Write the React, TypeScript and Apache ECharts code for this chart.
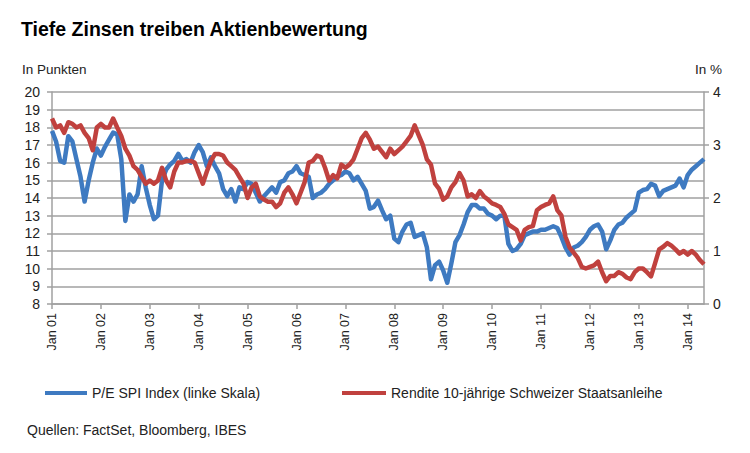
import React, { useEffect, useRef } from "react";
import * as echarts from "echarts";

// P/E SPI Index (linke Skala), monthly Jan 2001 .. May 2014
const peValues = [
  17.8, 17.2, 16.1, 16.0, 17.5, 17.2, 16.2, 15.2, 13.8, 15.0, 16.0, 16.8,
  16.4, 16.9, 17.3, 17.7, 17.6, 16.2, 12.7, 14.2, 13.8, 14.2, 15.8, 14.6,
  13.6, 12.8, 13.0, 15.0, 15.6, 15.9, 16.1, 16.5, 16.1, 16.2, 16.0, 16.6,
  17.0, 16.6, 15.8, 16.3, 15.8, 15.4, 14.5, 14.1, 14.5, 13.8, 14.6, 14.5,
  14.9, 14.8, 14.3, 13.8, 14.1, 14.35, 14.6, 14.3, 14.9, 15.0, 15.4, 15.5,
  15.8, 15.4, 15.3, 15.2, 14.0, 14.2, 14.3, 14.5, 14.8, 15.0, 15.2, 15.3,
  15.5, 15.4, 15.0, 15.2, 14.8, 14.4, 13.4, 13.5, 13.85, 13.3, 12.8, 13.0,
  11.7, 11.5, 12.1, 12.5, 12.6, 11.8, 11.9, 12.0, 11.2, 9.4, 10.2, 10.4,
  9.9, 9.2, 10.3, 11.5, 11.9, 12.5, 13.2, 13.6, 13.6, 13.4, 13.4, 13.1,
  13.0, 12.8, 13.0, 13.0, 11.4, 11.0, 11.1, 11.4, 11.9, 12.0, 12.1, 12.1,
  12.2, 12.2, 12.3, 12.4, 12.3, 11.8, 11.2, 10.8, 11.2, 11.3, 11.5, 11.8,
  12.2, 12.4, 12.5, 12.1, 11.1, 11.6, 12.2, 12.5, 12.6, 12.9, 13.1, 13.3,
  14.3, 14.45, 14.5, 14.8, 14.7, 14.1, 14.4, 14.5, 14.6, 14.7, 15.1, 14.6,
  15.3, 15.6, 15.8, 16.0, 16.2,
];

// Rendite 10-jährige Schweizer Staatsanleihe in %, monthly
const yieldValues = [
  3.5, 3.33, 3.37, 3.23, 3.43, 3.4, 3.33, 3.37, 3.23, 3.13, 2.9, 3.33,
  3.4, 3.33, 3.33, 3.5, 3.33, 3.17, 2.93, 2.8, 2.6, 2.53, 2.4, 2.27,
  2.33, 2.27, 2.33, 2.57, 2.33, 2.2, 2.5, 2.67, 2.67, 2.7, 2.7, 2.67,
  2.47, 2.27, 2.5, 2.7, 2.83, 2.83, 2.8, 2.67, 2.6, 2.53, 2.4, 2.27,
  2.0, 2.2, 2.27, 2.03, 1.97, 1.93, 1.93, 1.83, 1.9, 2.1, 2.2, 2.07,
  1.9, 2.1, 2.3, 2.67, 2.7, 2.8, 2.77, 2.57, 2.33, 2.43, 2.37, 2.63,
  2.57, 2.63, 2.73, 2.93, 3.13, 3.23, 3.1, 2.93, 2.97, 2.87, 2.77, 2.93,
  2.83, 2.9, 2.97, 3.07, 3.17, 3.37, 3.18, 3.0, 2.73, 2.63, 2.27, 2.17,
  1.97, 2.03, 2.2, 2.3, 2.47, 2.33, 2.03, 2.07, 2.0, 2.13, 2.03, 1.97,
  1.9, 1.87, 1.83, 1.7, 1.5, 1.45, 1.4, 1.2, 1.4, 1.45, 1.47, 1.77,
  1.83, 1.87, 1.9, 2.03, 1.77, 1.67, 1.27, 1.07, 0.97, 0.87, 0.7, 0.67,
  0.7, 0.73, 0.8, 0.6, 0.43, 0.53, 0.53, 0.6, 0.57, 0.5, 0.47, 0.6,
  0.67, 0.67, 0.6, 0.52, 0.77, 1.03, 1.08, 1.15, 1.1, 1.03, 0.95, 1.0,
  0.93, 1.0, 0.93, 0.83, 0.75,
];

const yearLabels = ["01", "02", "03", "04", "05", "06", "07", "08", "09", "10", "11", "12", "13", "14"];
const monthLabels = ["Jan", "Feb", "Mär", "Apr", "Mai", "Jun", "Jul", "Aug", "Sep", "Okt", "Nov", "Dez"];

const categories: string[] = [];
yearLabels.forEach((y) => monthLabels.forEach((m) => categories.push(`${m} ${y}`)));
const cats = categories.slice(0, peValues.length);

const leftTicks = { min: 8, max: 20, interval: 1 };
const rightTicks = { min: 0, max: 4, interval: 1 };

const TITLE = "Tiefe Zinsen treiben Aktienbewertung";
const PE_NAME = "P/E SPI Index (linke Skala)";
const YIELD_NAME = "Rendite 10-jährige Schweizer Staatsanleihe";
const SOURCE = "Quellen: FactSet, Bloomberg, IBES";

const FONT = "'Liberation Sans', Arial, Helvetica, sans-serif";
const BLUE = "#3e7ac1";
const RED = "#c0413e";
const GRID = "#a0a0a0";

export default function App() {
  const ref = useRef<HTMLDivElement>(null);
  useEffect(() => {
    if (!ref.current) return;
    const chart = echarts.init(ref.current, undefined, { renderer: "svg" });
    const isJan = (i: number) => i % 12 === 0;
    chart.setOption({
      animation: false,
      backgroundColor: "#ffffff",
      textStyle: { fontFamily: FONT },
      grid: { left: 52, right: 46, top: 92, bottom: 149, containLabel: false },
      legend: [
        {
          data: [PE_NAME],
          left: 45,
          top: 386,
          icon: "rect",
          itemWidth: 42,
          itemHeight: 4,
          itemGap: 0,
          textStyle: { fontFamily: FONT, fontSize: 14, color: "#222" },
          padding: 0,
        },
        {
          data: [YIELD_NAME],
          left: 342,
          top: 386,
          icon: "rect",
          itemWidth: 44,
          itemHeight: 4,
          itemGap: 0,
          textStyle: { fontFamily: FONT, fontSize: 14, color: "#222" },
          padding: 0,
        },
      ],
      xAxis: {
        type: "category",
        data: cats,
        boundaryGap: false,
        axisLine: { show: true, lineStyle: { color: GRID, width: 1.5 } },
        axisTick: {
          show: true,
          interval: (i: number) => isJan(i),
          length: 5,
          lineStyle: { color: GRID, width: 1.5 },
        },
        axisLabel: {
          interval: (i: number) => isJan(i),
          rotate: 90,
          margin: 9,
          fontSize: 12.5,
          color: "#222",
          fontFamily: FONT,
        },
        splitLine: { show: false },
      },
      yAxis: [
        {
          type: "value",
          min: leftTicks.min,
          max: leftTicks.max,
          interval: leftTicks.interval,
          axisLine: { show: true, lineStyle: { color: GRID, width: 1.5 } },
          axisTick: { show: true, length: 5, lineStyle: { color: GRID, width: 1.5 } },
          axisLabel: { margin: 12, fontSize: 14, color: "#222", fontFamily: FONT },
          splitLine: { show: true, lineStyle: { color: GRID, width: 1.5 } },
        },
        {
          type: "value",
          position: "right",
          min: rightTicks.min,
          max: rightTicks.max,
          interval: rightTicks.interval,
          axisLine: { show: true, lineStyle: { color: GRID, width: 1.5 } },
          axisTick: { show: true, length: 5, lineStyle: { color: GRID, width: 1.5 } },
          axisLabel: { margin: 9, fontSize: 14, color: "#222", fontFamily: FONT },
          splitLine: { show: false },
        },
      ],
      series: [
        {
          name: PE_NAME,
          type: "line",
          yAxisIndex: 0,
          data: peValues,
          showSymbol: false,
          symbol: "none",
          lineStyle: { color: BLUE, width: 4.5, join: "round" },
          itemStyle: { color: BLUE },
        },
        {
          name: YIELD_NAME,
          type: "line",
          yAxisIndex: 1,
          data: yieldValues,
          showSymbol: false,
          symbol: "none",
          lineStyle: { color: RED, width: 4.5, join: "round" },
          itemStyle: { color: RED },
        },
      ],
      graphic: [
        {
          type: "text",
          left: 21,
          top: 19,
          style: { text: TITLE, fontFamily: FONT, fontSize: 19.5, fontWeight: "bold", fill: "#000" },
        },
        {
          type: "text",
          left: 22,
          top: 62,
          style: { text: "In Punkten", fontFamily: FONT, fontSize: 13.5, fill: "#222" },
        },
        {
          type: "text",
          right: 28,
          top: 62,
          style: { text: "In %", fontFamily: FONT, fontSize: 13.5, fill: "#222" },
        },
        {
          type: "text",
          left: 27,
          top: 423,
          style: { text: SOURCE, fontFamily: FONT, fontSize: 14, fill: "#222" },
        },
      ],
    });
    return () => chart.dispose();
  }, []);
  return (
    <div
      ref={ref}
      style={{ position: "fixed", left: 0, top: 0, width: 750, height: 453, background: "#fff" }}
    />
  );
}
